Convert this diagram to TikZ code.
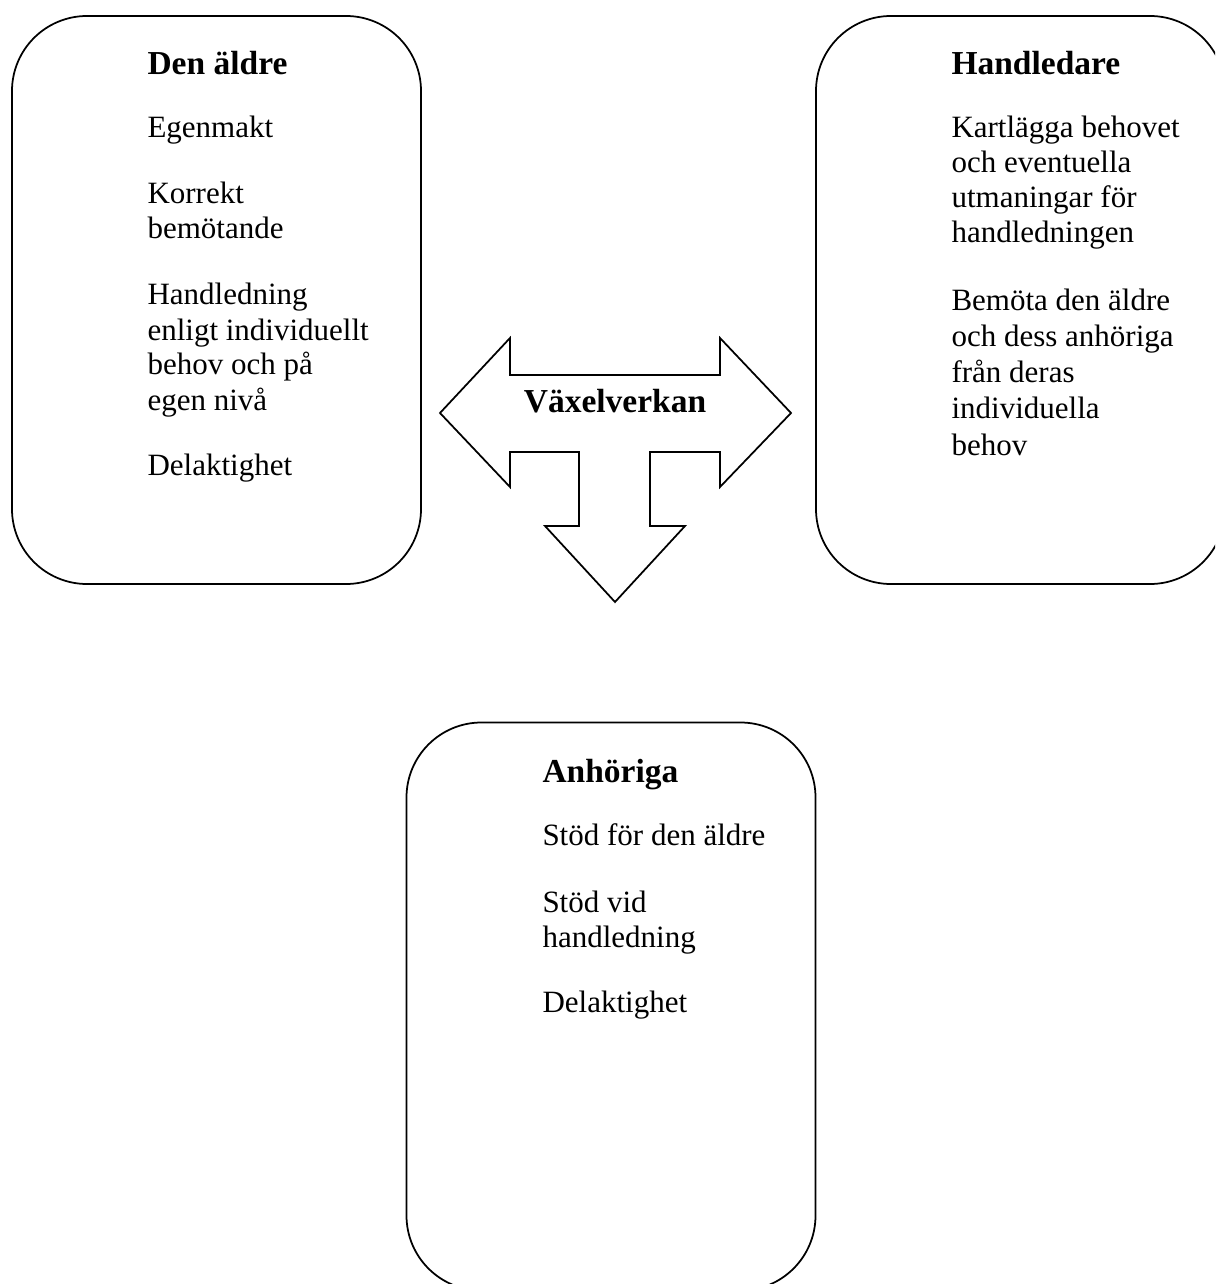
\documentclass[tikz,border=0pt]{standalone}
\usepackage{fontspec}
\setmainfont{Liberation Serif}
\begin{document}
\begin{tikzpicture}[x=0.4pt,y=-0.4pt,
  frame/.style={draw, line width=0.7pt, rounded corners=30pt, minimum width=163.6pt, minimum height=227.2pt, inner sep=0pt},
  txt/.style={anchor=base west, inner sep=0pt, font=\fontsize{12.4}{14}\selectfont},
  head/.style={anchor=base west, inner sep=0pt, font=\fontsize{13.4}{15}\selectfont\bfseries},
  shape line/.style={draw, line width=0.7pt, line join=miter}]
\useasboundingbox (0,0) rectangle (1215,1284);
\clip (0,0) rectangle (1215,1284);

% boxes
\node[frame] (boxL) at (216.5,300) {};
\node[frame] (boxR) at (1020.5,300) {};
\node[frame] (boxB) at (611,1006.5) {};

% T-shaped arrow
\draw[shape line] (440,413) -- (510,338) -- (510,375) -- (720,375) -- (720,338)
  -- (791,413) -- (720,487) -- (720,452) -- (650,452) -- (650,526) -- (685,526)
  -- (615,602) -- (545,526) -- (579,526) -- (579,452) -- (510,452) -- (510,487) -- cycle;
\node[head, anchor=base] (vx) at (615,413) {Växelverkan};

% left box text
\node[head] (l0) at (147,75) {Den äldre};
\node[txt] (l1) at (147,138) {Egenmakt};
\node[txt] (l2) at (147,204) {Korrekt};
\node[txt] (l3) at (147,239) {bemötande};
\node[txt] (l4) at (147,305) {Handledning};
\node[txt] (l5) at (147,340) {enligt individuellt};
\node[txt] (l6) at (147,375) {behov och på};
\node[txt] (l7) at (147,410) {egen nivå};
\node[txt] (l8) at (147,475) {Delaktighet};

% right box text
\node[head] (r0) at (951,75) {Handledare};
\node[txt] (r1) at (951,138) {Kartlägga behovet};
\node[txt] (r2) at (951,173) {och eventuella};
\node[txt] (r3) at (951,208) {utmaningar för};
\node[txt] (r4) at (951,243) {handledningen};
\node[txt] (r5) at (951,311) {Bemöta den äldre};
\node[txt] (r6) at (951,347) {och dess anhöriga};
\node[txt] (r7) at (951,383) {från deras};
\node[txt] (r8) at (951,419) {individuella};
\node[txt] (r9) at (951,455) {behov};

% bottom box text
\node[head] (b0) at (542,782) {Anhöriga};
\node[txt] (b1) at (542,845) {Stöd för den äldre};
\node[txt] (b2) at (542,912) {Stöd vid};
\node[txt] (b3) at (542,947) {handledning};
\node[txt] (b4) at (542,1012) {Delaktighet};
\end{tikzpicture}
\end{document}
